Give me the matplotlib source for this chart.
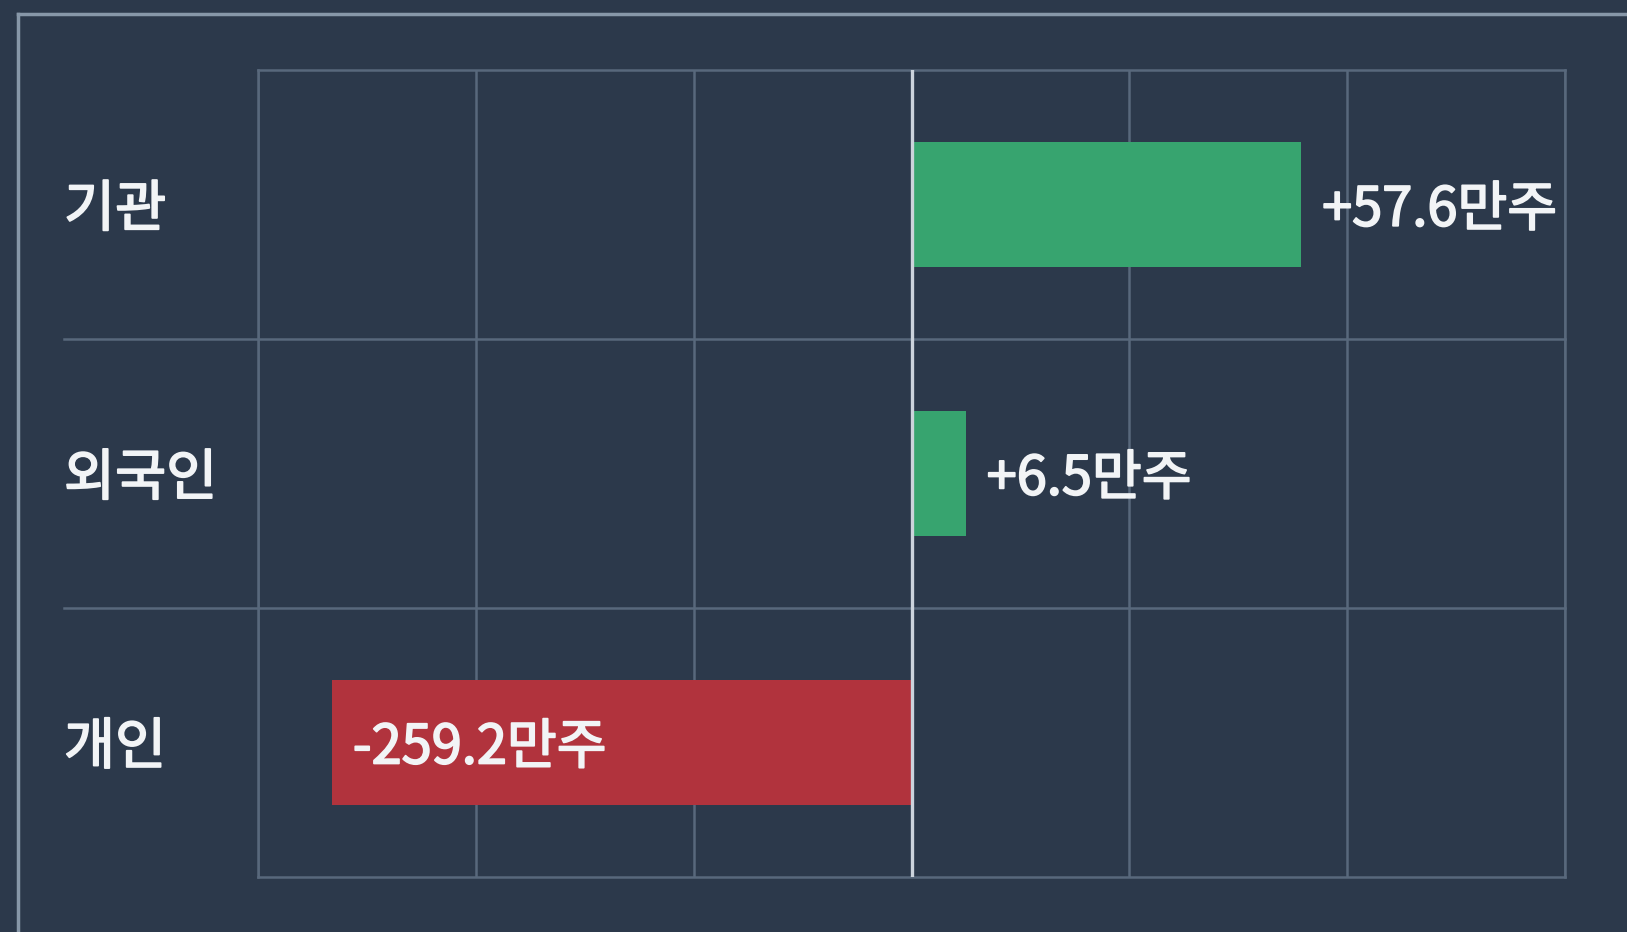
import numpy as np
import matplotlib
matplotlib.use("Agg")
import matplotlib.pyplot as plt
from matplotlib.lines import Line2D
import matplotlib.transforms as mtransforms
import matplotlib.patheffects as pe

plt.rcParams['font.family'] = ['Noto Sans CJK KR', 'DejaVu Sans']

# investor groups, top to bottom
groups = ["기관", "외국인", "개인"]
# net buying in 만주 (shown as labels)
net_values = [57.6, 6.5, -259.2]
# bar lengths as drawn in the picture, in grid-cell units (bars are not to scale)
bar_lengths = [1.79, 0.25, -2.66]

BG = "#2c394b"
GRID = "#58687c"
ZERO = "#ccd3dc"
FRAME = "#8797a8"
GREEN = "#37a46f"
RED = "#b1333d"
TXT = "#f2f4f6"

fig = plt.figure(figsize=(16.27, 9.32), dpi=100, facecolor=BG)
ax = fig.add_axes([0.1586, 0.059, 0.8033, 0.8654], facecolor=BG)

y = np.arange(len(groups))
colors = [GREEN if v >= 0 else RED for v in net_values]
ax.barh(y, bar_lengths, height=0.465, color=colors, zorder=3)

ax.set_xlim(-3, 3)
ax.set_ylim(len(groups) - 0.5, -0.5)
ax.set_xticks(np.arange(-3, 4))
ax.set_yticks([])
ax.tick_params(axis="x", length=0, labelbottom=False)
ax.grid(axis="x", color=GRID, linewidth=1.8, zorder=1)
for s in ax.spines.values():
    s.set_color(GRID)
    s.set_linewidth(1.8)

# row separators run out into the label column
trans = mtransforms.blended_transform_factory(ax.transAxes, ax.transData)
for yb in y[:-1] + 0.5:
    ax.plot([-0.1485, 1.0], [yb, yb], transform=trans, color=GRID,
            linewidth=1.8, clip_on=False, zorder=1)

ax.axvline(0, color=ZERO, linewidth=2.4, zorder=4)

# slightly heavier than regular weight
thick = [pe.withStroke(linewidth=1.3, foreground=TXT)]

# category labels
for yi, g in zip(y, groups):
    ax.text(-0.1485, yi + 0.02, g, transform=trans, ha="left", va="center",
            fontsize=40, color=TXT, path_effects=thick)

# value labels: outside for buying, inside the bar for selling
for yi, v, L in zip(y, net_values, bar_lengths):
    lab = f"{v:+.1f}만주"
    ax.text(L + 0.095, yi + 0.02, lab, ha="left", va="center", fontsize=39,
            color=TXT, path_effects=thick, zorder=5)

# outer panel frame (top and left edges visible)
fig.add_artist(Line2D([18 / 1627, 1.0], [1 - 14 / 932, 1 - 14 / 932],
                      color=FRAME, linewidth=2.5, transform=fig.transFigure))
fig.add_artist(Line2D([18 / 1627, 18 / 1627], [0.0, 1 - 14 / 932],
                      color=FRAME, linewidth=2.5, transform=fig.transFigure))

fig.savefig("out.png", dpi=100, facecolor=BG)
